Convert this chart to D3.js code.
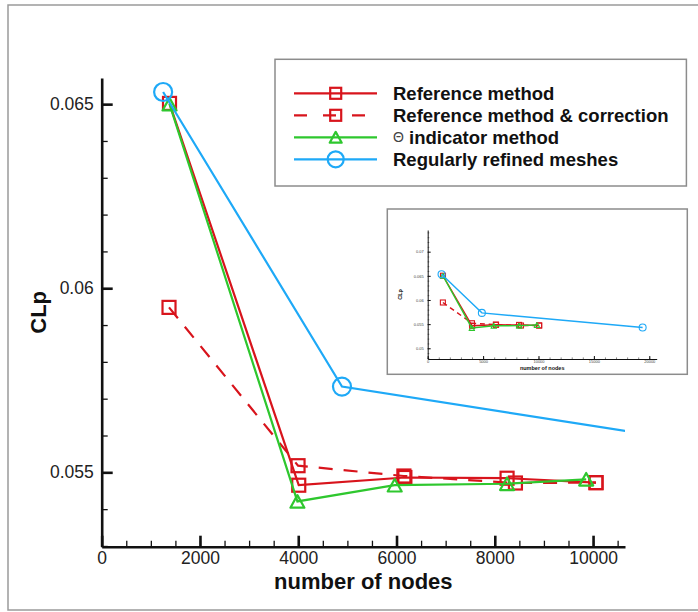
<!DOCTYPE html>
<html>
<head>
<meta charset="utf-8">
<script src="https://cdn.jsdelivr.net/npm/d3@7.9.0/dist/d3.min.js"></script>
<style>
  body { margin: 0; background: #fff; }
  svg { display: block; font-family: 'Liberation Sans', Arial, sans-serif; }
</style>
</head>
<body>
<div id="chart"></div>
<script>
// values: [number of nodes, CLp]
const referenceMethod = [[1380, 0.06502], [4010, 0.05465], [6170, 0.05486], [8250, 0.05484], [10060, 0.05472]];
const referenceCorrection = [[1370, 0.05948], [3996, 0.05518], [6150, 0.05490], [8420, 0.05471], [10060, 0.05472]];
const thetaIndicator = [[1380, 0.06500], [3983, 0.05421], [5963, 0.05465], [8250, 0.05469], [9860, 0.05481]];
const regularMeshes = [[1250, 0.06533], [4890, 0.05733], [19400, 0.05430]];

const xTicks = [0, 2000, 4000, 6000, 8000, 10000];
const yTicks = [0.055, 0.06, 0.065];
const insetXTicks = [0, 5000, 10000, 15000, 20000];
const insetYTicks = [0.05, 0.055, 0.06, 0.065, 0.07];

const red = '#d8141c';
const green = '#2ec72e';
const blue = '#1ea9f7';

const series = [
  { name: 'Reference method', data: referenceMethod, color: red, dash: null, marker: 'square' },
  { name: 'Reference method & correction', data: referenceCorrection, color: red, dash: '14,11', marker: 'square' },
  { name: 'indicator method', data: thetaIndicator, color: green, dash: null, marker: 'triangle' },
  { name: 'Regularly refined meshes', data: regularMeshes, color: blue, dash: null, marker: 'circle' },
];

const width = 698;
const height = 612;

const svg = d3.select('#chart')
  .append('svg')
  .attr('width', width)
  .attr('height', height);

// outer frame
svg.append('rect')
  .attr('x', 8).attr('y', 5)
  .attr('width', 700).attr('height', 605)
  .attr('fill', 'none')
  .attr('stroke', '#9a9a9a')
  .attr('stroke-width', 1.5);

function drawMarker(g, type, x, y, size, color, sw) {
  if (type === 'square') {
    g.append('rect')
      .attr('x', x - size / 2).attr('y', y - size / 2)
      .attr('width', size).attr('height', size)
      .attr('fill', 'none').attr('stroke', color).attr('stroke-width', sw);
  } else if (type === 'triangle') {
    const h = size * 0.9;
    g.append('path')
      .attr('d', `M${x},${y - h / 2}L${x + size / 2},${y + h / 2}L${x - size / 2},${y + h / 2}Z`)
      .attr('fill', 'none').attr('stroke', color).attr('stroke-width', sw)
      .attr('stroke-linejoin', 'round');
  } else {
    g.append('circle')
      .attr('cx', x).attr('cy', y).attr('r', size / 2)
      .attr('fill', 'none').attr('stroke', color).attr('stroke-width', sw);
  }
}

function drawPlot(opts) {
  const { id, left, right, top, bottom, xDomain, yDomain, xMajor, xMinorStep, yMajor, yMinorStep,
          lineWidth, markerSizes, markerStroke, axisWidth, fontSize, titleSize, majorLen, minorLen,
          tickColor, yFormat, xLabelPad, yLabelPad, xTitleY, yTitleX } = opts;

  const x = d3.scaleLinear().domain(xDomain).range([left, right]);
  const y = d3.scaleLinear().domain(yDomain).range([bottom, top]);

  const g = svg.append('g');

  svg.append('clipPath').attr('id', id)
    .append('rect')
    .attr('x', left).attr('y', top)
    .attr('width', right - left).attr('height', bottom - top);

  const xMinor = d3.range(xDomain[0], xDomain[1], xMinorStep);
  const yMinor = d3.range(Math.ceil(yDomain[0] / yMinorStep) * yMinorStep, yDomain[1], yMinorStep);

  // minor ticks
  g.append('g')
    .attr('transform', `translate(0,${bottom})`)
    .call(d3.axisBottom(x).tickValues(xMinor).tickSize(-minorLen).tickFormat(''))
    .call((s) => s.select('.domain').remove())
    .call((s) => s.selectAll('line').attr('stroke', '#111').attr('stroke-width', axisWidth * 0.5));
  g.append('g')
    .attr('transform', `translate(${left},0)`)
    .call(d3.axisLeft(y).tickValues(yMinor).tickSize(-minorLen).tickFormat(''))
    .call((s) => s.select('.domain').remove())
    .call((s) => s.selectAll('line').attr('stroke', '#111').attr('stroke-width', axisWidth * 0.5));

  // major axes
  g.append('g')
    .attr('transform', `translate(0,${bottom})`)
    .call(d3.axisBottom(x).tickValues(xMajor).tickSize(-majorLen).tickSizeOuter(0)
      .tickPadding(xLabelPad).tickFormat(d3.format('d')))
    .call((s) => s.select('.domain').attr('stroke', '#111').attr('stroke-width', axisWidth))
    .call((s) => s.selectAll('.tick line').attr('stroke', '#111').attr('stroke-width', axisWidth))
    .call((s) => s.selectAll('text').attr('font-size', fontSize).attr('fill', tickColor)
      .attr('font-family', "'Liberation Sans', Arial, sans-serif"));
  g.append('g')
    .attr('transform', `translate(${left},0)`)
    .call(d3.axisLeft(y).tickValues(yMajor).tickSize(-majorLen).tickSizeOuter(0).tickPadding(yLabelPad).tickFormat(yFormat))
    .call((s) => s.select('.domain').attr('stroke', '#111').attr('stroke-width', axisWidth))
    .call((s) => s.selectAll('.tick line').attr('stroke', '#111').attr('stroke-width', axisWidth))
    .call((s) => s.selectAll('text').attr('font-size', fontSize).attr('fill', tickColor)
      .attr('font-family', "'Liberation Sans', Arial, sans-serif"));

  // titles
  g.append('text')
    .attr('x', (left + right) / 2).attr('y', xTitleY)
    .attr('text-anchor', 'middle').attr('dominant-baseline', 'central')
    .attr('font-weight', 'bold').attr('font-size', titleSize).attr('fill', '#111')
    .text('number of nodes');
  g.append('text')
    .attr('transform', `translate(${yTitleX},${(top + bottom) / 2}) rotate(-90)`)
    .attr('text-anchor', 'middle').attr('dominant-baseline', 'central')
    .attr('font-weight', 'bold').attr('font-size', titleSize).attr('fill', '#111')
    .text('CLp');

  const line = d3.line().x((d) => x(d[0])).y((d) => y(d[1]));

  for (const s of series) {
    g.append('path')
      .datum(s.data)
      .attr('clip-path', `url(#${id})`)
      .attr('d', line)
      .attr('fill', 'none')
      .attr('stroke', s.color)
      .attr('stroke-width', lineWidth)
      .attr('stroke-dasharray', s.dash ? s.dash.split(',').map((v) => +v * opts.dashScale).join(',') : null);
    const mg = g.append('g');
    for (const d of s.data) {
      if (d[0] > xDomain[1]) continue;
      drawMarker(mg, s.marker, x(d[0]), y(d[1]), markerSizes[s.marker], s.color, markerStroke);
    }
  }
}

// main plot
drawPlot({
  id: 'clip-main',
  left: 101.7, right: 625, top: 78, bottom: 546.7,
  xDomain: [0, 10650], yDomain: [0.05298, 0.06571],
  xMajor: xTicks, xMinorStep: 500, yMajor: yTicks, yMinorStep: 0.001,
  lineWidth: 2.2, markerSizes: { square: 13, triangle: 14, circle: 18 }, markerStroke: 2.2,
  axisWidth: 2.6, fontSize: 17.5, titleSize: 22, majorLen: 11, minorLen: 6,
  tickColor: '#222', yFormat: (d) => String(+d.toFixed(3)),
  xLabelPad: 5, yLabelPad: 8, xTitleY: 581, yTitleX: 38, dashScale: 1,
});

// legend
const legend = svg.append('g');
legend.append('rect')
  .attr('x', 275).attr('y', 59.3)
  .attr('width', 411.4).attr('height', 126.7)
  .attr('fill', '#fff')
  .attr('stroke', '#8c8c8c')
  .attr('stroke-width', 1.5);

series.forEach((s, i) => {
  const ly = 93.3 + i * 22;
  legend.append('line')
    .attr('x1', 294).attr('x2', 377)
    .attr('y1', ly).attr('y2', ly)
    .attr('stroke', s.color)
    .attr('stroke-width', 2.2)
    .attr('stroke-dasharray', s.dash ? '13,16,13,16' : null)
    .attr('stroke-dashoffset', s.dash ? 0 : null);
  const sizes = { square: 11, triangle: 12, circle: 16 };
  drawMarker(legend, s.marker, 335.7, ly, sizes[s.marker], s.color, 2.2);
  const t = legend.append('text')
    .attr('x', 393).attr('y', ly)
    .attr('dominant-baseline', 'central')
    .attr('font-size', 18.5).attr('font-weight', 'bold').attr('fill', '#111');
  if (s.marker === 'triangle') {
    t.append('tspan').attr('font-size', 14).attr('font-weight', 'normal').attr('fill', '#444').text('Θ');
    t.append('tspan').text(' ' + s.name);
  } else {
    t.text(s.name);
  }
});

// inset
svg.append('rect')
  .attr('x', 387.3).attr('y', 209)
  .attr('width', 300).attr('height', 165.3)
  .attr('fill', '#fff')
  .attr('stroke', '#8c8c8c')
  .attr('stroke-width', 1.5);

drawPlot({
  id: 'clip-inset',
  left: 427.7, right: 656.7, top: 230, bottom: 359,
  xDomain: [0, 20670], yDomain: [0.04778, 0.07449],
  xMajor: insetXTicks, xMinorStep: 1000, yMajor: insetYTicks, yMinorStep: 0.001,
  lineWidth: 1.4, markerSizes: { square: 5, triangle: 5.5, circle: 7 }, markerStroke: 1.1,
  axisWidth: 1, fontSize: 4, titleSize: 5.5, majorLen: 3, minorLen: 1.6,
  tickColor: '#444', yFormat: (d) => String(+d.toFixed(3)),
  xLabelPad: 1, yLabelPad: 4, xTitleY: 367.5, yTitleX: 400, dashScale: 0.35,
});
</script>
</body>
</html>
